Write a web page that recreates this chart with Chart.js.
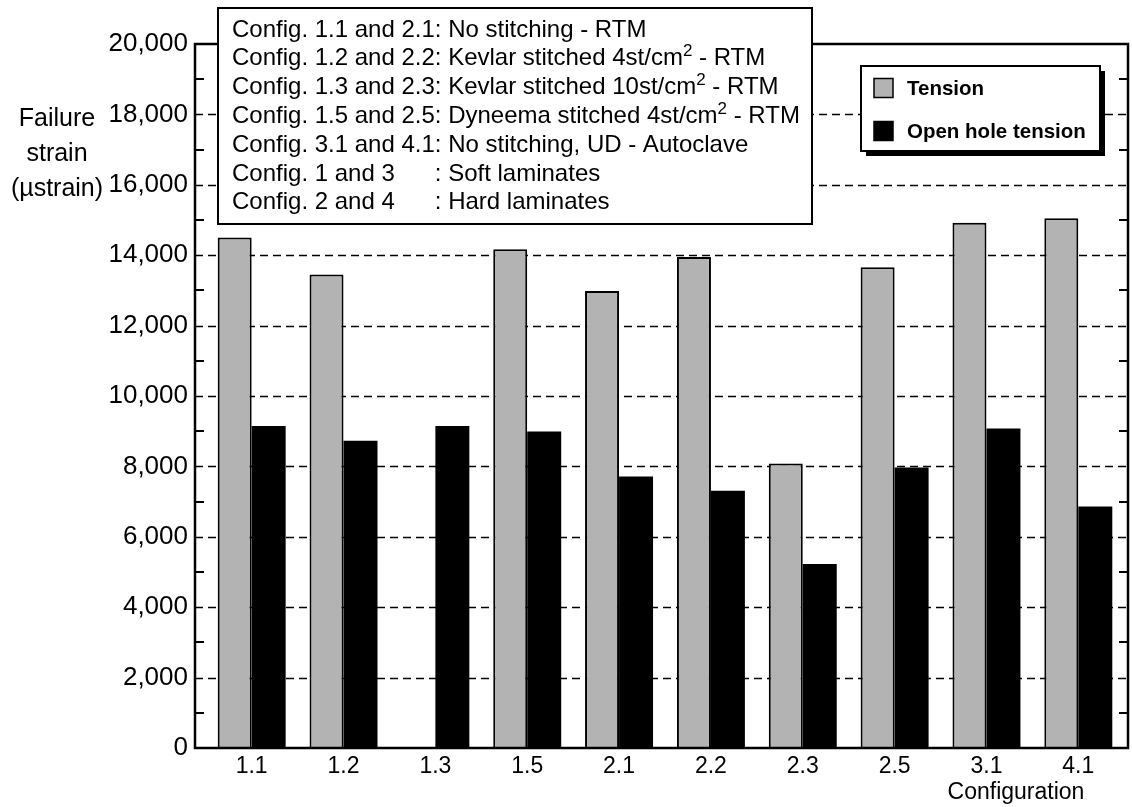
<!DOCTYPE html>
<html>
<head>
<meta charset="utf-8">
<script src="https://cdn.jsdelivr.net/npm/chart.js@4.4.1/dist/chart.umd.min.js"></script>
<style>
  html, body { margin: 0; padding: 0; background: #fff; }
  #wrap { width: 1132px; height: 807px; }
</style>
</head>
<body>
<div id="wrap"><canvas id="c" width="1132" height="807"></canvas></div>
<script>
// Configurations along the x axis
const categories = ['1.1', '1.2', '1.3', '1.5', '2.1', '2.2', '2.3', '2.5', '3.1', '4.1'];

// Failure strain (microstrain) per configuration
const tension  = [14500, 13450, null, 14170, 12980, 13950, 8080, 13660, 14920, 15050];
const openHole = [9150, 8730, 9150, 8990, 7710, 7310, 5230, 7970, 9080, 6860];

// Y axis range and labelled steps
const yMin = 0;
const yMax = 20000;
const yStep = 2000;

// Notes box: left part, then the part starting at the aligned colon (^...^ = superscript)
const notes = [
  ['Config. 1.1 and 2.1', ': No stitching - RTM'],
  ['Config. 1.2 and 2.2', ': Kevlar stitched 4st/cm^2^ - RTM'],
  ['Config. 1.3 and 2.3', ': Kevlar stitched 10st/cm^2^ - RTM'],
  ['Config. 1.5 and 2.5', ': Dyneema stitched 4st/cm^2^ - RTM'],
  ['Config. 3.1 and 4.1', ': No stitching, UD - Autoclave'],
  ['Config. 1 and 3', ': Soft laminates'],
  ['Config. 2 and 4', ': Hard laminates']
];

const yTitle = ['Failure', 'strain', '(\u00b5strain)'];
const xTitle = 'Configuration';

const FONT = '"Liberation Sans", Arial, Helvetica, sans-serif';
const GREY = '#b3b3b3';

const toPoints = arr => arr.map((v, i) => ({ x: i, y: v }));

const decorations = {
  id: 'decorations',
  beforeDraw(chart) {
    const ctx = chart.ctx;
    ctx.save();
    ctx.fillStyle = '#fff';
    ctx.fillRect(0, 0, chart.width, chart.height);
    ctx.restore();
  },
  beforeDatasetsDraw(chart) {
    const { ctx, chartArea: a, scales: { y } } = chart;
    ctx.save();
    // dashed major grid lines
    ctx.strokeStyle = '#000';
    ctx.lineWidth = 1.5;
    ctx.setLineDash([8, 5]);
    for (let v = yMin + yStep; v < yMax; v += yStep) {
      const py = Math.round(y.getPixelForValue(v)) + 0.5;
      ctx.beginPath();
      ctx.moveTo(a.left, py);
      ctx.lineTo(a.right, py);
      ctx.stroke();
    }
    // inward minor ticks on both sides
    ctx.setLineDash([]);
    ctx.lineWidth = 2;
    for (let v = yMin + yStep / 2; v < yMax; v += yStep) {
      const py = Math.round(y.getPixelForValue(v));
      ctx.beginPath();
      ctx.moveTo(a.left, py);
      ctx.lineTo(a.left + 9, py);
      ctx.moveTo(a.right, py);
      ctx.lineTo(a.right - 9, py);
      ctx.stroke();
    }
    ctx.restore();
  },
  afterDatasetsDraw(chart) {
    const { ctx, chartArea: a } = chart;
    ctx.save();
    ctx.strokeStyle = '#000';
    ctx.lineWidth = 2.5;
    ctx.strokeRect(a.left, a.top, a.right - a.left, a.bottom - a.top);
    ctx.restore();
  },
  afterDraw(chart) {
    const ctx = chart.ctx;
    ctx.save();

    // notes box
    const bx = 218, by = 8, bw = 594, bh = 216;
    ctx.fillStyle = '#fff';
    ctx.fillRect(bx, by, bw, bh);
    ctx.strokeStyle = '#000';
    ctx.lineWidth = 2;
    ctx.strokeRect(bx, by, bw, bh);

    const size = 24;
    const supSize = 17;
    ctx.fillStyle = '#000';
    ctx.textBaseline = 'alphabetic';
    ctx.textAlign = 'left';
    ctx.font = size + 'px ' + FONT;
    const tx = 232;
    const colonX = tx + ctx.measureText(notes[0][0]).width;
    notes.forEach((row, i) => {
      const base = 36.5 + i * 28.8;
      ctx.font = size + 'px ' + FONT;
      ctx.fillText(row[0], tx, base);
      let x = colonX;
      row[1].split('^').forEach((part, k) => {
        if (!part) return;
        const sup = k % 2 === 1;
        ctx.font = (sup ? supSize : size) + 'px ' + FONT;
        ctx.fillText(part, x, sup ? base - 9 : base);
        x += ctx.measureText(part).width;
      });
    });

    // legend with drop shadow
    const lx = 861, ly = 66, lw = 239, lh = 85;
    ctx.fillStyle = '#000';
    ctx.fillRect(lx + 5, ly + 5, lw, lh);
    ctx.fillStyle = '#fff';
    ctx.fillRect(lx, ly, lw, lh);
    ctx.lineWidth = 2;
    ctx.strokeRect(lx, ly, lw, lh);
    ctx.font = 'bold 20.5px ' + FONT;
    ctx.textBaseline = 'middle';
    chart.data.datasets.forEach((ds, i) => {
      const cy = 88 + i * 43;
      ctx.fillStyle = ds.backgroundColor;
      ctx.fillRect(874, cy - 9.5, 19, 19);
      ctx.lineWidth = 1.5;
      ctx.strokeStyle = '#000';
      ctx.strokeRect(874, cy - 9.5, 19, 19);
      ctx.fillStyle = '#000';
      ctx.fillText(ds.label, 907, cy + 1);
    });

    // y axis title
    ctx.font = '25px ' + FONT;
    ctx.textAlign = 'center';
    ctx.textBaseline = 'alphabetic';
    yTitle.forEach((t, i) => ctx.fillText(t, 57, 126 + i * 35));

    // x axis title
    ctx.font = '23px ' + FONT;
    ctx.fillText(xTitle, 1016, 799);

    ctx.restore();
  }
};

new Chart(document.getElementById('c'), {
  type: 'bar',
  data: {
    datasets: [
      {
        label: 'Tension',
        data: toPoints(tension),
        backgroundColor: GREY,
        borderColor: '#000',
        borderWidth: 2,
        borderSkipped: 'bottom',
        categoryPercentage: 0.74,
        barPercentage: 1.0
      },
      {
        label: 'Open hole tension',
        data: toPoints(openHole),
        backgroundColor: '#000',
        borderColor: '#000',
        borderWidth: 0,
        categoryPercentage: 0.74,
        barPercentage: 1.0
      }
    ]
  },
  options: {
    responsive: false,
    animation: false,
    devicePixelRatio: 1,
    layout: { padding: { top: 44, right: 4, left: 0, bottom: 0 } },
    plugins: { legend: { display: false }, tooltip: { enabled: false } },
    scales: {
      x: {
        type: 'linear',
        offset: false,
        min: -0.617,
        max: 9.541,
        grid: { display: false, drawTicks: false },
        border: { display: false },
        afterBuildTicks: s => { s.ticks = categories.map((c, i) => ({ value: i })); },
        afterFit: s => { s.height = 59; },
        ticks: {
          autoSkip: false,
          maxRotation: 0,
          padding: 5,
          color: '#000',
          font: { family: FONT, size: 23 },
          callback: v => categories[v]
        }
      },
      y: {
        min: yMin,
        max: yMax,
        grid: { display: false, drawTicks: false },
        border: { display: false },
        afterFit: s => { s.width = 195; },
        ticks: {
          stepSize: yStep,
          padding: 7,
          color: '#000',
          font: { family: FONT, size: 26 },
          callback: v => v.toLocaleString('en-US')
        }
      }
    }
  },
  plugins: [decorations]
});
</script>
</body>
</html>
